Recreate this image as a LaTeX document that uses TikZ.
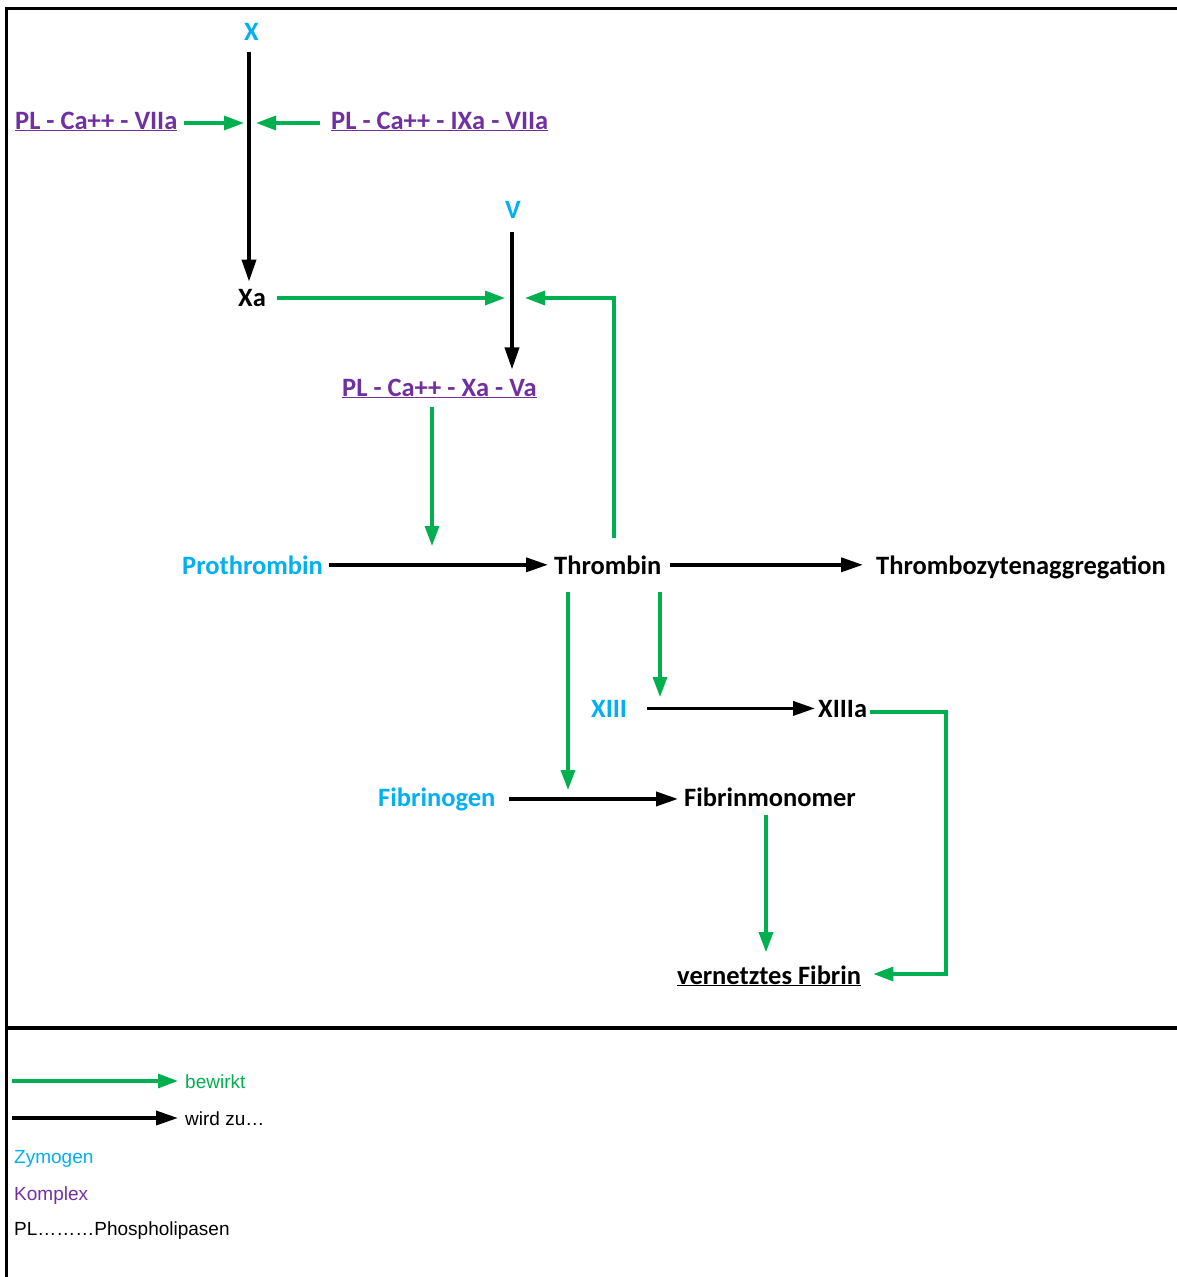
\documentclass[tikz,border=0pt]{standalone}
\usepackage{fontspec}
\setmainfont{Carlito}
\newfontfamily\legfont{Liberation Sans}
\usetikzlibrary{arrows.meta,calc}
\definecolor{zym}{RGB}{0,176,240}
\definecolor{kpx}{RGB}{112,48,160}
\definecolor{grn}{RGB}{0,176,80}
\begin{document}
\begin{tikzpicture}[x=1pt,y=-1pt,
  lbl/.style={font=\fontsize{26.5}{30}\selectfont\bfseries, inner sep=3pt, anchor=base west},
  zy/.style={lbl,text=zym},
  kx/.style={lbl,text=kpx},
  bk/.style={lbl,text=black},
  becomes/.style={draw=black,line width=3.6pt,-{Triangle[length=22pt,width=14pt]}},
  causes/.style={draw=grn,line width=3.2pt,-{Triangle[length=20pt,width=14pt]}},
  leg/.style={font=\legfont\fontsize{19}{23}\selectfont, inner sep=0pt, anchor=base west}]
\useasboundingbox (0,0) rectangle (1177,1277);
% frame
\draw[line width=3.5pt] (6.5,1277) -- (6.5,8.5) -- (1177,8.5);
\draw[line width=3.5pt] (6.5,1028) -- (1177,1028);
% junction / corner coordinates
\coordinate (j1) at (249,123);
\coordinate (j2) at (512,298);
\coordinate (k1) at (614,298);
\coordinate (j3) at (432,565);
\coordinate (j4) at (568,798);
\coordinate (j5) at (660,711);
\coordinate (k2) at (946,712);
\coordinate (k3) at (946,974);
% nodes
\node[zy] (X) at (241,40) {X};
\node[kx] (c1) at (12,129) {\underline{PL - Ca++ - VIIa}};
\node[kx] (c2) at (328,129) {\underline{PL - Ca++ - IXa - VIIa}};
\node[bk] (Xa) at (235,306) {Xa};
\node[zy] (V) at (502,218) {V};
\node[kx] (c3) at (339,396) {\underline{PL - Ca++ - Xa - Va}};
\node[zy] (pro) at (179,574) {Prothrombin};
\node[bk] (thr) at (551,574) {Thrombin};
\node[bk] (agg) at (873,574) {Thrombozytenaggregation};
\node[zy] (xiii) at (588,717) {XIII};
\node[bk] (xiiia) at (815,717) {XIIIa};
\node[zy] (fgen) at (375,806) {Fibrinogen};
\node[bk] (fmono) at (681,806) {Fibrinmonomer};
\node[bk] (vf) at (674,984) {\underline{vernetztes Fibrin}};
% connectors
\draw[becomes, shorten <=9pt, shorten >=4pt] (X.south -| j1) -- (Xa.north -| j1);
\draw[causes, shorten <=3pt, shorten >=5pt] (c1.east |- j1) -- (j1);
\draw[causes, shorten <=8pt, shorten >=7pt] (c2.west |- j1) -- (j1);
\draw[becomes, shorten <=11pt, shorten >=6pt] (V.south -| j2) -- (c3.north -| j2);
\draw[causes, shorten <=8pt, shorten >=7pt] (Xa.east |- j2) -- (j2);
\draw[causes, shorten <=14pt, shorten >=13pt] (thr.north -| k1) -- (k1) -- (j2);
\draw[causes, shorten <=6pt, shorten >=19pt] (c3.south -| j3) -- (j3);
\draw[becomes, shorten <=3pt, shorten >=3pt] (pro.east) -- (thr.west |- pro.east);
\draw[becomes, shorten <=5pt, shorten >=10pt] (thr.east) -- (agg.west |- thr.east);
\draw[causes, shorten <=15pt, shorten >=8pt] (thr.south -| j4) -- (j4);
\draw[causes, shorten <=15pt, shorten >=14pt] (thr.south -| j5) -- (j5);
\draw[becomes, shorten <=17pt, shorten >=0pt] (xiii.east) -- (xiiia.west |- xiii.east);
\draw[causes, shorten >=9pt] (xiiia.east |- k2) -- (k2) -- (k3) -- (vf.east |- k3);
\draw[becomes, shorten <=10pt, shorten >=3pt] (fgen.east) -- (fmono.west |- fgen.east);
\draw[causes, shorten <=6pt, shorten >=10pt] (fmono.south -| 766,0) -- (vf.north -| 766,0);
% legend
\node[leg,text=grn] (lb) at (185,1088) {bewirkt};
\node[leg,text=black] (lw) at (185,1125) {wird zu…};
\node[leg,text=zym] (lz) at (14,1163) {Zymogen};
\node[leg,text=kpx] (lk) at (14,1200) {Komplex};
\node[leg,text=black] (lp) at (14,1235) {PL………Phospholipasen};
\coordinate (la) at (12,1081);
\coordinate (lc) at (12,1118);
\draw[causes, shorten >=7pt] (la) -- (lb.west |- la);
\draw[becomes, shorten >=7pt] (lc) -- (lw.west |- lc);
\end{tikzpicture}
\end{document}
